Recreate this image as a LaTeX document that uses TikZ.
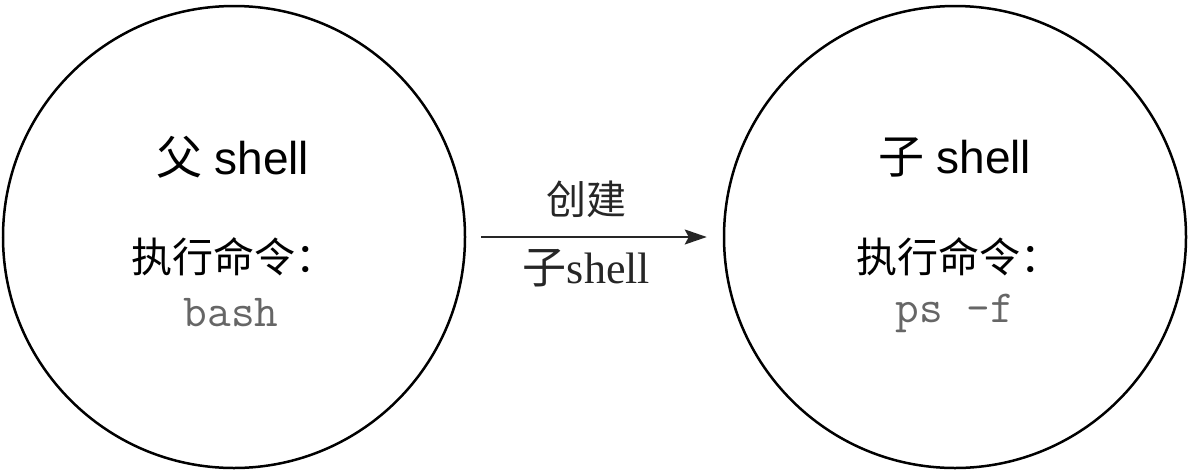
\documentclass[tikz,border=0pt]{standalone}
\usepackage{fontspec}
\setmainfont{Liberation Serif}
\setsansfont{Liberation Sans}
\newfontfamily\cjk{Noto Sans CJK SC}
\usepackage{tikz}
\usetikzlibrary{arrows.meta, positioning}

\begin{document}
\begin{tikzpicture}[
                x=1pt, y=1pt,
                shellnode/.style={draw, circle, line width=2.5pt, minimum size=462pt, inner sep=0pt},
                title/.style={font=\fontsize{46pt}{52pt}\selectfont, inner sep=0pt},
                cmd/.style={font=\fontsize{41pt}{48pt}\selectfont\cjk, inner sep=0pt},
                code/.style={font=\fontsize{46pt}{52pt}\selectfont\ttfamily, text=black!60, inner sep=0pt},
                lbl/.style={font=\fontsize{40pt}{48pt}\selectfont, inner sep=0pt}
            ]
                \useasboundingbox (0,0) rectangle (1190,-472);

                \node[shellnode] (parent) at (234,-237) {};
                \node[shellnode] (child) at (955,-237) {};

                \node[title] (ptitle) at (233,-157) {{\cjk 父} {\sffamily shell}};
                \node[cmd] (pcmd) at (234,-257) {执行命令：};
                \node[code] (pcode) at (231,-313) {bash};

                \node[title] (ctitle) at (955,-157) {{\cjk 子} {\sffamily shell}};
                \node[cmd] (ccmd) at (959,-257) {执行命令：};
                \node[code] (ccode) at (955,-313) {ps -f};

                \draw[-{Stealth[length=22pt, width=15pt, inset=4pt]}, line width=2pt, black!85, shorten <=15pt, shorten >=16pt] (parent) -- (child)
                    node[lbl, midway, above=18pt, xshift=-8pt] (create) {\cjk 创建}
                    node[lbl, midway, below=11pt, xshift=-8pt, font=\fontsize{44pt}{48pt}\selectfont] (sub) {{\cjk 子}shell};
            \end{tikzpicture}
\end{document}
